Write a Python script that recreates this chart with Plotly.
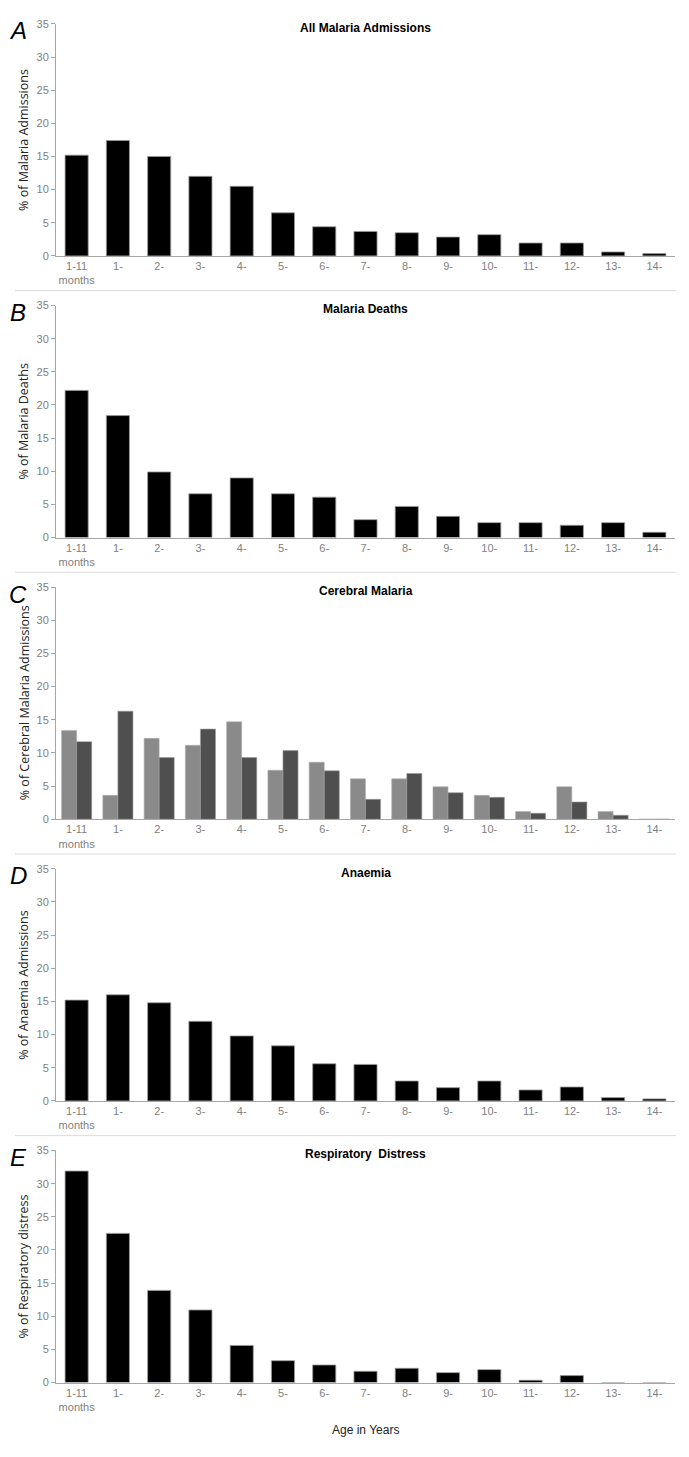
import plotly.graph_objects as go

categories = ["1-11 months", "1-", "2-", "3-", "4-", "5-", "6-", "7-", "8-", "9-",
              "10-", "11-", "12-", "13-", "14-"]
tick_labels = ["1-11<br>months", "1-", "2-", "3-", "4-", "5-", "6-", "7-", "8-", "9-",
               "10-", "11-", "12-", "13-", "14-"]

all_malaria = [15.2, 17.4, 15.0, 12.0, 10.5, 6.5, 4.4, 3.7, 3.5, 2.85, 3.2, 1.95, 1.95, 0.6, 0.35]
malaria_deaths = [22.2, 18.4, 9.9, 6.6, 9.0, 6.6, 6.1, 2.7, 4.7, 3.2, 2.25, 2.25, 1.85, 2.25, 0.8]
cerebral_light = [13.4, 3.6, 12.2, 11.15, 14.7, 7.4, 8.6, 6.1, 6.1, 4.9, 3.6, 1.15, 4.9, 1.15, 0]
cerebral_dark = [11.7, 16.3, 9.3, 13.6, 9.3, 10.35, 7.3, 3.0, 6.9, 4.0, 3.3, 0.9, 2.6, 0.6, 0]
anaemia = [15.2, 16.0, 14.8, 12.0, 9.8, 8.3, 5.6, 5.5, 3.0, 2.0, 3.0, 1.65, 2.1, 0.5, 0.3]
resp_distress = [31.9, 22.5, 13.9, 10.95, 5.6, 3.3, 2.65, 1.7, 2.15, 1.5, 1.95, 0.35, 1.05, 0, 0]

panel_letters = ["A", "B", "C", "D", "E"]
panel_titles = ["All Malaria Admissions", "Malaria Deaths", "Cerebral Malaria",
                "Anaemia", "Respiratory  Distress"]
y_titles = ["% of Malaria Admissions", "% of Malaria Deaths",
            "% of Cerebral Malaria Admissions", "% of Anaemia Admissions",
            "% of Respiratory distress"]

W, H = 689, 1457
X0, X1 = 56, 675
TOP0, PH, STEP = 18, 234, 284

fig = go.Figure()

def px_x(p):
    return p / W

def px_y(p):
    return 1 - p / H

line_style = dict(color="#9a9a9a", width=0.8)

series = [[all_malaria], [malaria_deaths], [cerebral_light, cerebral_dark], [anaemia], [resp_distress]]
for k, s in enumerate(series):
    ax = "" if k == 0 else str(k + 1)
    if len(s) == 1:
        fig.add_trace(go.Bar(x=categories, y=s[0], marker=dict(color="#000000", line=line_style),
                             width=0.56, xaxis="x" + ax, yaxis="y" + ax, showlegend=False))
    else:
        fig.add_trace(go.Bar(x=categories, y=s[0], marker=dict(color="#8a8a8a", line=dict(color="#b0b0b0", width=0.6)),
                             xaxis="x" + ax, yaxis="y" + ax, showlegend=False, offsetgroup="a"))
        fig.add_trace(go.Bar(x=categories, y=s[1], marker=dict(color="#4f4f4f", line=dict(color="#9a9a9a", width=0.6)),
                             xaxis="x" + ax, yaxis="y" + ax, showlegend=False, offsetgroup="b"))

layout = dict(width=W, height=H, margin=dict(l=0, r=0, t=0, b=0),
              plot_bgcolor="white", paper_bgcolor="white",
              barmode="group", bargap=0.27, bargroupgap=0.0,
              font=dict(family="Liberation Sans", color="#222"))

annotations = []
shapes = []
for k in range(5):
    ax = "" if k == 0 else str(k + 1)
    top = TOP0 + STEP * k
    bot = top + PH
    layout["xaxis" + ax] = dict(domain=[px_x(X0), px_x(X1)], anchor="y" + ax,
                                type="category", tickmode="array", tickvals=categories,
                                ticktext=tick_labels, showline=True, linecolor="#a6a6a6",
                                linewidth=1, ticks="", showgrid=False, zeroline=False,
                                tickfont=dict(size=11, color="#7f7f7f", family="Liberation Sans Narrow, Liberation Sans"),
                                fixedrange=True)
    layout["yaxis" + ax] = dict(domain=[px_y(bot), px_y(top)], anchor="x" + ax,
                                range=[0, 35], dtick=5, tick0=0, showline=True,
                                linecolor="#a6a6a6", linewidth=1, ticks="outside",
                                ticklen=4, tickcolor="#a6a6a6", showgrid=False, zeroline=False,
                                tickfont=dict(size=11, color="#7f7f7f", family="Liberation Sans Narrow, Liberation Sans"),
                                fixedrange=True)
    annotations.append(dict(text="<b>" + panel_titles[k] + "</b>", x=px_x((X0 + X1) / 2), y=px_y(top + 4),
                            xref="paper", yref="paper", showarrow=False, xanchor="center", yanchor="middle",
                            font=dict(size=12, color="#000", family="Liberation Sans")))
    annotations.append(dict(text="<i>" + panel_letters[k] + "</i>", x=px_x(18), y=px_y(top + 7),
                            xref="paper", yref="paper", showarrow=False, xanchor="center", yanchor="middle",
                            font=dict(size=24, color="#000", family="Liberation Sans")))
    annotations.append(dict(text=y_titles[k], x=px_x(24), y=px_y((top + bot) / 2), textangle=-90,
                            xref="paper", yref="paper", showarrow=False, xanchor="center", yanchor="middle",
                            font=dict(size=12.5, color="#222", family="Open Sans")))
    if k < 4:
        sep = bot + 35
        shapes.append(dict(type="line", xref="paper", yref="paper", x0=px_x(15), x1=px_x(676),
                           y0=px_y(sep), y1=px_y(sep), line=dict(color="#dcdcdc", width=1)))

annotations.append(dict(text="Age in Years", x=px_x((X0 + X1) / 2), y=px_y(1436), xref="paper", yref="paper",
                        showarrow=False, xanchor="center", yanchor="middle",
                        font=dict(size=12, color="#222", family="Liberation Sans")))

layout["annotations"] = annotations
layout["shapes"] = shapes
fig.update_layout(**layout)
fig.write_html("out.html", config={"displayModeBar": False},
               post_script="document.body.style.margin='0px';")
